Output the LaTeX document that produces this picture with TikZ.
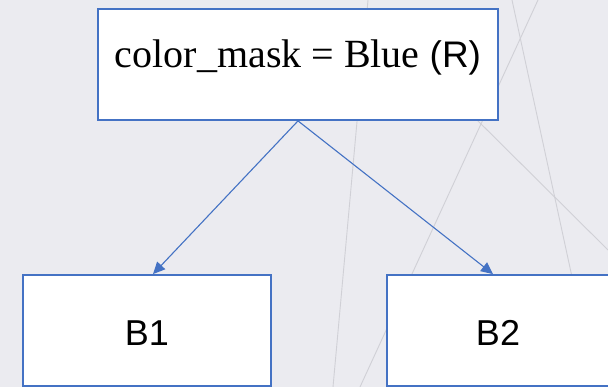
\documentclass[tikz,border=0pt]{standalone}
\usepackage{fontspec}
\setmainfont{Liberation Serif}
\newfontfamily\arialf{Liberation Sans}
\usetikzlibrary{arrows.meta}
\definecolor{bgc}{HTML}{EBEBF0}
\definecolor{boxblue}{HTML}{4472C4}
\definecolor{bgline}{HTML}{D0D0D6}
\begin{document}
\begin{tikzpicture}[x=1pt,y=-1pt,
  boxst/.style={draw=boxblue, line width=1.8pt, fill=white, rectangle, inner sep=0pt},
  conn/.style={draw=boxblue, line width=1.1pt, -{Triangle[length=12pt,width=11pt]}},
  bgl/.style={draw=bgline, line width=0.9pt},
  lbl/.style={anchor=base, inner sep=0pt}]
\fill[bgc] (0,0) rectangle (608,387);
\useasboundingbox (0,0) rectangle (608,387);
% background texture lines
\draw[bgl] (512,0) -- (590,360);
\draw[bgl] (538,0) -- (360,387);
\draw[bgl] (470,113) -- (608,250);
\draw[bgl] (368,0) -- (333,387);
% boxes
\node[boxst, minimum width=400pt, minimum height=111pt] (top) at (298,64.5) {};
\node[boxst, minimum width=248pt, minimum height=111pt] (b1) at (147,330.5) {};
\node[boxst, minimum width=223pt, minimum height=111pt] (b2) at (498.5,330.5) {};
% labels
\node[lbl] (toplbl) at (298,67.5) {\fontsize{40}{42}\selectfont color\_mask = Blue {\arialf\fontsize{37}{42}\selectfont (R)}};
\node[lbl] (b1lbl) at (147,346) {\arialf\fontsize{36}{40}\selectfont B1};
\node[lbl] (b2lbl) at (498,346) {\arialf\fontsize{36}{40}\selectfont B2};
% connectors
\draw[conn] (top.south) -- ([xshift=6pt]b1.north);
\draw[conn] (top.south) -- ([xshift=-5.5pt]b2.north);
\end{tikzpicture}
\end{document}
